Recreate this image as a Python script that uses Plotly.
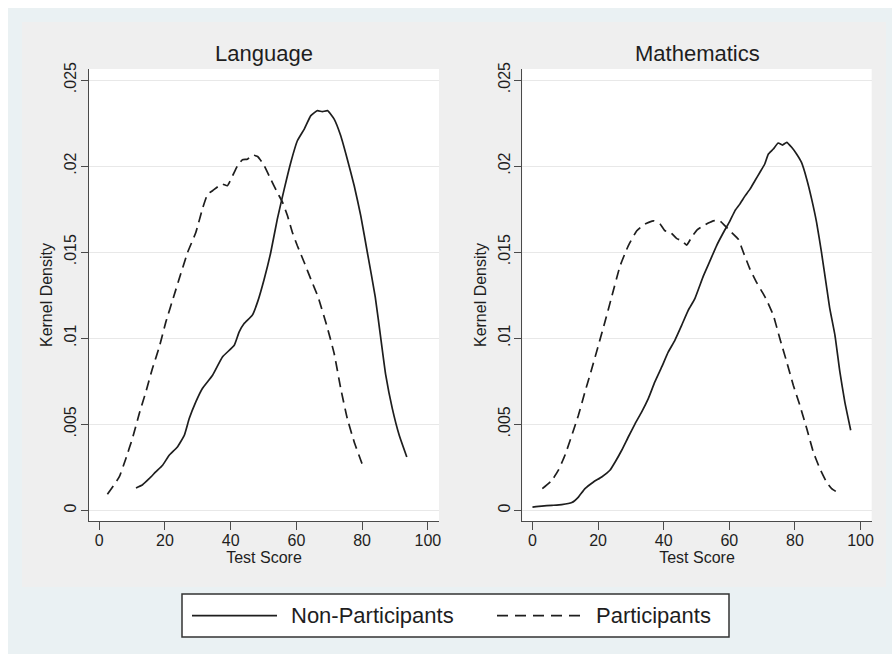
import plotly.graph_objects as go

# ---- data: kernel density estimates of test scores ----
x_ticks = [0, 20, 40, 60, 80, 100]
y_ticks = [0, 0.005, 0.01, 0.015, 0.02, 0.025]
y_tick_labels = ["0", ".005", ".01", ".015", ".02", ".025"]
panel_titles = ["Language", "Mathematics"]
series_names = ["Non-Participants", "Participants"]

lang_nonpart_x = [11.2, 13.2, 15.2, 17.2, 19.3, 21.3, 23.8, 25.9, 27.4, 29.4, 31.4, 34.5, 37.5,
                  41.1, 42.6, 44.1, 46.6, 48.2, 50.2, 52.2, 54.2, 56.3, 58.3, 60.3, 62.4, 64.4,
                  66.4, 67.9, 69.5, 71.5, 73.5, 75.5, 77.6, 79.6, 81.6, 84.0, 85.7, 87.2, 89.2,
                  91.3, 93.6]
lang_nonpart_y = [.0013, .00149, .00184, .00223, .00262, .0032, .00368, .00436, .00533, .0063,
                  .00708, .00785, .00891, .00959, .01037, .01085, .01134, .01211, .01343, .01498,
                  .01692, .01866, .02021, .02147, .02215, .02293, .02322, .02316, .02322, .02273,
                  .02176, .0204, .01886, .01711, .01498, .0124, .00998, .00785, .00591, .00436,
                  .0031]

lang_part_x = [2.5, 6.1, 8.1, 10.1, 12.2, 14.2, 16.2, 18.3, 20.3, 22.8, 26.9, 29.4, 31.4, 33.0,
               34.5, 36.5, 37.5, 39.0, 40.6, 42.1, 43.6, 45.1, 46.6, 48.2, 50.0, 52.2, 54.2,
               55.8, 57.3, 58.8, 60.3, 62.4, 64.4, 66.6, 69.5, 71.5, 73.5, 75.5, 77.6, 79.6,
               80.6]
lang_part_y = [.00093, .00194, .0030, .00417, .00562, .00688, .00824, .0095, .01095, .0125,
               .01498, .01614, .0175, .01837, .01857, .01886, .01895, .01886, .01944, .02002,
               .02037, .0204, .02064, .02056, .0201, .01924, .01847, .01789, .01711, .01614,
               .01537, .0144, .01343, .0124, .01056, .00911, .00708, .00533, .00397, .00291,
               .00238]

math_nonpart_x = [0, 2.8, 5.9, 8.9, 12.0, 14.0, 16.0, 18.6, 21.1, 23.6, 25.2, 27.2, 29.2, 31.3,
                  33.3, 35.3, 37.3, 39.4, 41.4, 43.4, 45.5, 47.5, 49.5, 52.1, 54.1, 56.1, 58.2,
                  60.2, 61.7, 63.2, 64.8, 66.3, 67.8, 69.3, 70.8, 71.9, 73.4, 74.9, 76.2, 77.5,
                  79.0, 80.5, 82.0, 83.6, 85.1, 86.6, 88.1, 89.6, 90.6, 92.2, 93.7, 95.2, 97.0]
math_nonpart_y = [.00019, .00025, .00029, .00033, .00045, .00077, .00126, .00165, .00194,
                  .00233, .00281, .00349, .00426, .00504, .00572, .00649, .00746, .00833, .0092,
                  .00988, .01076, .01163, .0123, .01362, .01449, .01537, .01614, .01682, .0174,
                  .01779, .01827, .01866, .01915, .01963, .02012, .0207, .02099, .02134, .02122,
                  .02138, .02109, .0207, .02021, .01924, .01808, .01673, .01498, .01304, .01175,
                  .01017, .00804, .0063, .00465]

math_part_x = [3.0, 5.9, 7.9, 9.9, 12.0, 14.0, 16.0, 18.1, 20.1, 22.1, 24.0, 26.7, 29.2, 31.8,
               34.3, 36.9, 38.9, 40.4, 41.9, 43.9, 45.5, 47.0, 48.5, 50.2, 52.1, 53.6, 55.1,
               57.1, 58.7, 60.7, 62.7, 64.3, 66.3, 68.3, 70.4, 71.4, 73.4, 75.4, 77.5, 79.5,
               81.5, 83.6, 85.6, 87.6, 89.6, 91.2, 93.2]
math_part_y = [.00126, .00174, .00233, .0032, .00436, .00552, .00688, .00824, .00959, .01095,
               .0123, .0142, .01537, .01624, .01663, .01682, .01663, .01624, .01618, .0158,
               .01566, .01541, .01586, .0163, .01653, .01669, .01682, .01682, .01653, .01614,
               .01576, .01498, .01401, .01324, .01256, .01221, .01134, .00998, .00862, .00727,
               .0061, .00475, .00339, .00242, .00165, .00126, .00101]

# ---- page geometry (pixels) ----
W, H = 892, 654
FONT = "Liberation Sans, Arial, Helvetica, sans-serif"
INK = "#1e1e1e"
AXIS = "#4a4a4a"
DASH = "10px,6px"


def fx(p):
    return p / W


def fy(p):
    return 1 - p / H


plot_boxes = [(89, 439), (522.3, 871.7)]   # left/right pixel edges of each plot region
plot_top, plot_bottom = 69, 521

fig = go.Figure()

panels = [
    (lang_nonpart_x, lang_nonpart_y, lang_part_x, lang_part_y),
    (math_nonpart_x, math_nonpart_y, math_part_x, math_part_y),
]
for i, (nx, ny, px_, py_) in enumerate(panels):
    xa = "x" if i == 0 else "x2"
    ya = "y" if i == 0 else "y2"
    fig.add_trace(go.Scatter(x=nx, y=ny, mode="lines", name=series_names[0],
                             line=dict(color=INK, width=1.7, shape="spline", smoothing=0.4),
                             xaxis=xa, yaxis=ya, showlegend=False))
    fig.add_trace(go.Scatter(x=px_, y=py_, mode="lines", name=series_names[1],
                             line=dict(color=INK, width=1.7, dash=DASH, shape="spline",
                                       smoothing=0.4),
                             xaxis=xa, yaxis=ya, showlegend=False))

x_range = [-3.1, 103.4]
y_range = [-0.00062, 0.02564]

axis_common = dict(showline=True, linecolor=AXIS, linewidth=1.3, ticks="outside",
                   tickcolor=AXIS, tickwidth=1.3, zeroline=False, automargin=False,
                   tickfont=dict(family=FONT, size=16, color=INK))

layout_axes = {}
for i, (l, r) in enumerate(plot_boxes):
    sfx = "" if i == 0 else "2"
    layout_axes["xaxis" + sfx] = dict(
        domain=[fx(l), fx(r)], range=x_range, tickvals=x_ticks, ticklen=8,
        ticklabelstandoff=-3, showgrid=False, anchor="y" + sfx,
        title=dict(text="Test Score", font=dict(family=FONT, size=16, color=INK), standoff=0),
        **axis_common)
    layout_axes["yaxis" + sfx] = dict(
        domain=[fy(plot_bottom), fy(plot_top)], range=y_range, tickvals=y_ticks,
        ticktext=y_tick_labels, tickangle=-90, ticklen=7, ticklabelstandoff=-2,
        showgrid=True, gridcolor="#e8e8e8", gridwidth=1, anchor="x" + sfx,
        title=dict(text="Kernel Density", font=dict(family=FONT, size=16, color=INK),
                   standoff=5),
        **axis_common)

shapes = [
    # outer graph region and inner panel
    dict(type="rect", xref="paper", yref="paper", x0=fx(8), x1=1, y0=0, y1=fy(8),
         fillcolor="#eaf1f3", line_width=0, layer="below"),
    dict(type="rect", xref="paper", yref="paper", x0=fx(22), x1=fx(886), y0=fy(587),
         y1=fy(22), fillcolor="#efefef", line_width=0, layer="below"),
]
for l, r in plot_boxes:
    shapes.append(dict(type="rect", xref="paper", yref="paper", x0=fx(l), x1=fx(r),
                       y0=fy(plot_bottom), y1=fy(plot_top), fillcolor="white", line_width=0,
                       layer="below"))

# legend box with line samples
legend_y = 615.7
shapes += [
    dict(type="rect", xref="paper", yref="paper", x0=fx(182), x1=fx(729), y0=fy(637),
         y1=fy(594), fillcolor="white", line=dict(color="#333333", width=1.5)),
    dict(type="line", xref="paper", yref="paper", x0=fx(192), x1=fx(277), y0=fy(legend_y),
         y1=fy(legend_y), line=dict(color=INK, width=1.7)),
    dict(type="line", xref="paper", yref="paper", x0=fx(497), x1=fx(583), y0=fy(legend_y),
         y1=fy(legend_y), line=dict(color=INK, width=1.7, dash="11px,7px")),
]

annotations = []
for (l, r), title in zip(plot_boxes, panel_titles):
    annotations.append(dict(text=title, xref="paper", yref="paper", x=fx((l + r) / 2),
                            y=fy(54), xanchor="center", yanchor="middle", showarrow=False,
                            font=dict(family=FONT, size=22, color=INK)))
annotations += [
    dict(text=series_names[0], xref="paper", yref="paper", x=fx(289), y=fy(legend_y),
         xanchor="left", yanchor="middle", showarrow=False,
         font=dict(family=FONT, size=22, color=INK)),
    dict(text=series_names[1], xref="paper", yref="paper", x=fx(594), y=fy(legend_y),
         xanchor="left", yanchor="middle", showarrow=False,
         font=dict(family=FONT, size=22, color=INK)),
]

fig.update_layout(
    width=W, height=H, margin=dict(l=0, r=0, t=0, b=0),
    paper_bgcolor="white", plot_bgcolor="rgba(0,0,0,0)",
    showlegend=False, shapes=shapes, annotations=annotations,
    font=dict(family=FONT, color=INK),
    **layout_axes,
)

fig.write_html("out.html")
